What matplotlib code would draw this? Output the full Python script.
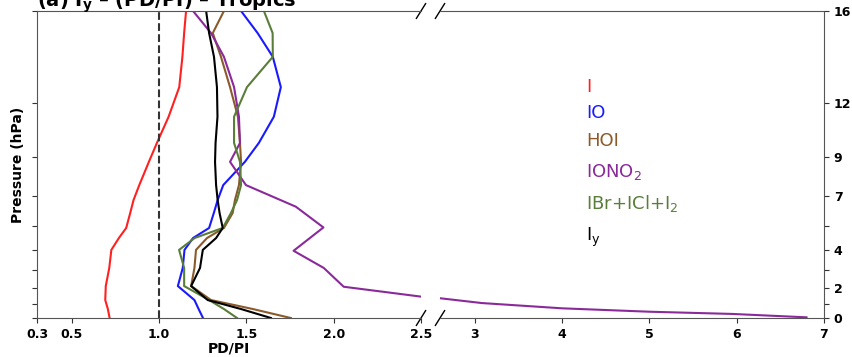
import numpy as np
import matplotlib
matplotlib.use("Agg")
import matplotlib.pyplot as plt
from matplotlib.ticker import FixedLocator, NullLocator

# pressure levels (hPa) shared by most species
lev = [1000, 935, 874, 787, 687, 600, 549, 509, 455, 413, 369, 310, 269, 221, 177, 141, 118, 100]

# PD/PI ratios per species
ratio_i = [0.716, 0.706, 0.691, 0.694, 0.714, 0.726, 0.769, 0.811, 0.834, 0.853, 0.886, 0.941, 0.987, 1.054, 1.115, 1.133, 1.143, 1.154]
ratio_io = [1.251, 1.226, 1.202, 1.107, 1.135, 1.145, 1.194, 1.286, 1.313, 1.335, 1.367, 1.491, 1.571, 1.657, 1.697, 1.651, 1.564, 1.469]
ratio_hoi = [1.754, 1.537, 1.297, 1.183, 1.202, 1.211, 1.274, 1.371, 1.421, 1.434, 1.457, 1.469, 1.463, 1.451, 1.406, 1.354, 1.307, 1.371]
ratio_ihal = [1.446, 1.371, 1.286, 1.143, 1.143, 1.114, 1.203, 1.364, 1.411, 1.446, 1.469, 1.463, 1.429, 1.429, 1.503, 1.651, 1.650, 1.600]
ratio_iy = [1.640, 1.469, 1.278, 1.183, 1.234, 1.250, 1.326, 1.364, 1.346, 1.335, 1.326, 1.320, 1.323, 1.334, 1.331, 1.314, 1.286, 1.269]

# IONO2 goes off the left scale near the surface, so it has its own levels
lev_iono2 = [995, 970, 954, 930, 894, 859, 791, 687, 604, 507, 434, 369, 310, 269, 221, 177, 141, 118, 100]
ratio_iono2 = [6.80, 5.95, 5.00, 4.00, 3.08, 2.55, 2.057, 1.943, 1.770, 1.941, 1.783, 1.497, 1.406, 1.463, 1.457, 1.429, 1.371, 1.297, 1.194]

species = ["I", "IO", "HOI", r"IONO$_2$", r"IBr+ICl+I$_2$", r"I$_\mathrm{y}$"]
colors = ["#ff2020", "#1a1aff", "#8b5a2b", "#8a2a9a", "#5a7d3a", "#000000"]

p_ticks = [100, 200, 300, 400, 500, 600, 700, 800, 900, 1000]
alt_labels = ["16", "12", "9", "7", "", "4", "", "2", "", "0"]

fig = plt.figure(figsize=(8.52, 3.57), dpi=100)
ax1 = fig.add_axes([37 / 852, 39 / 357, 384 / 852, 307 / 357])
ax2 = fig.add_axes([440 / 852, 39 / 357, 384 / 852, 307 / 357])

series = [(ratio_i, lev), (ratio_io, lev), (ratio_hoi, lev),
          (ratio_iono2, lev_iono2), (ratio_ihal, lev), (ratio_iy, lev)]

for ax in (ax1, ax2):
    for (vals, p), c in zip(series, colors):
        ax.plot(vals, p, color=c, lw=1.5)
    ax.set_yscale("log")
    ax.set_ylim(1000, 100)
    ax.yaxis.set_major_locator(FixedLocator(p_ticks))
    ax.yaxis.set_minor_locator(NullLocator())
    ax.xaxis.set_minor_locator(NullLocator())
    for s in ax.spines.values():
        s.set_color("#555555")
    ax.tick_params(colors="#333333", labelcolor="black", labelsize=9)

ax1.axvline(1.0, color="#333333", ls="--", lw=1.5)

ax1.set_xlim(0.3, 2.5)
ax1.set_xticks([0.3, 0.5, 1.0, 1.5, 2.0, 2.5])
ax1.set_xticklabels(["0.3", "0.5", "1.0", "1.5", "2.0", "2.5"], fontweight="bold")
ax1.set_yticklabels([""] * len(p_ticks))
ax1.spines["right"].set_visible(False)

ax2.set_xlim(2.6, 7)
ax2.set_xticks([3, 4, 5, 6, 7])
ax2.set_xticklabels(["3", "4", "5", "6", "7"], fontweight="bold")
ax2.spines["left"].set_visible(False)
ax2.yaxis.tick_right()
ax2.set_yticklabels(alt_labels, fontweight="bold")

# diagonal marks for the axis break
d = 0.012
kw = dict(color="k", lw=1.0, clip_on=False)
for y0 in (0, 1):
    ax1.plot((1 - d, 1 + d), (y0 - 2 * d, y0 + 2 * d), transform=ax1.transAxes, **kw)
    ax2.plot((-d, d), (y0 - 2 * d, y0 + 2 * d), transform=ax2.transAxes, **kw)

# species labels in their line colours
label_y = [87, 113, 141, 172, 203, 237]
for name, c, y in zip(species, colors, label_y):
    fig.text(586 / 852, 1 - y / 357, name, color=c, fontsize=13, va="center", ha="left")

fig.text(229 / 852, 1 - 349 / 357, "PD/PI", fontsize=10, fontweight="bold", ha="center", va="center")
fig.text(18 / 852, 1 - 165 / 357, "Pressure (hPa)", fontsize=10, fontweight="bold",
         rotation=90, ha="center", va="center")
fig.text(37 / 852, 1 - 7 / 357, r"(a) I$_\mathbf{y}$ – (PD/PI) – Tropics", fontsize=14,
         fontweight="bold", ha="left", va="baseline")

fig.savefig("out.png", dpi=100)
